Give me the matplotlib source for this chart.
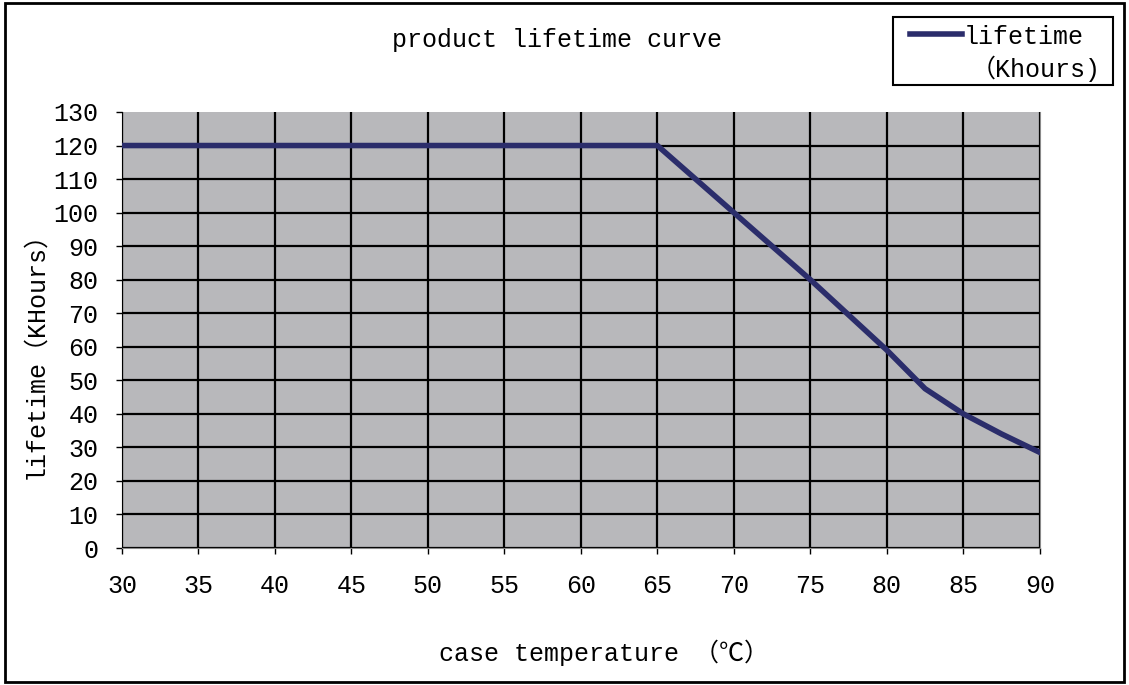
import matplotlib.pyplot as plt
from matplotlib.patches import Rectangle
from matplotlib.lines import Line2D

# lifetime curve
temperature = [30, 65, 70, 75, 80, 82.5, 85, 87.5, 90]
lifetime = [120, 120, 100, 80, 59, 47.5, 40, 34, 28.5]

x_ticks = [30, 35, 40, 45, 50, 55, 60, 65, 70, 75, 80, 85, 90]
y_ticks = list(range(0, 131, 10))

line_color = '#2b2d6b'
font = ['Liberation Mono', 'Noto Sans CJK SC', 'DejaVu Sans']
plt.rcParams['font.family'] = font

fig = plt.figure(figsize=(11.29, 6.85), dpi=100)
ax = fig.add_axes([0.108, 0.2, 0.813, 0.6365])
ax.set_facecolor('#b8b8bb')

ax.plot(temperature, lifetime, color=line_color, linewidth=4, solid_joinstyle='round',
        zorder=3)

ax.set_xlim(30, 90)
ax.set_ylim(0, 130)
ax.set_xticks(x_ticks)
ax.set_yticks(y_ticks)
ax.tick_params(axis='x', length=4, width=1, pad=15, labelsize=18)
ax.tick_params(axis='y', length=4, width=1, pad=13, labelsize=18)
ax.grid(True, color='black', linewidth=1.6)
ax.get_ygridlines()[-1].set_visible(False)
ax.set_axisbelow(True)

for side in ['right', 'bottom']:
    ax.spines[side].set_color('#8a8a8a')
ax.spines['top'].set_visible(False)
ax.spines['left'].set_color('black')

# titles and axis labels
fig.text(0.493, 0.942, 'product lifetime curve', fontsize=18, ha='center', va='center')
fig.text(0.535, 0.047, 'case temperature （℃）', fontsize=18, ha='center', va='center')
fig.text(0.031, 0.490, 'lifetime（KHours）', fontsize=18, ha='center', va='center',
         rotation=90)

# legend box drawn by hand, as in the original
fig.add_artist(Rectangle((0.791, 0.876), 0.195, 0.099, transform=fig.transFigure,
                         fill=False, edgecolor='black', linewidth=1.5))
fig.add_artist(Line2D([0.806, 0.852], [0.950, 0.950], transform=fig.transFigure,
                      color=line_color, linewidth=4))
fig.text(0.854, 0.946, 'lifetime', fontsize=18, ha='left', va='center')
fig.text(0.975, 0.900, '（Khours)', fontsize=18, ha='right', va='center')

# outer border round the whole chart
fig.add_artist(Rectangle((0.004, 0.005), 0.992, 0.99, transform=fig.transFigure,
                         fill=False, edgecolor='black', linewidth=2))

plt.savefig('out.png', dpi=100)
